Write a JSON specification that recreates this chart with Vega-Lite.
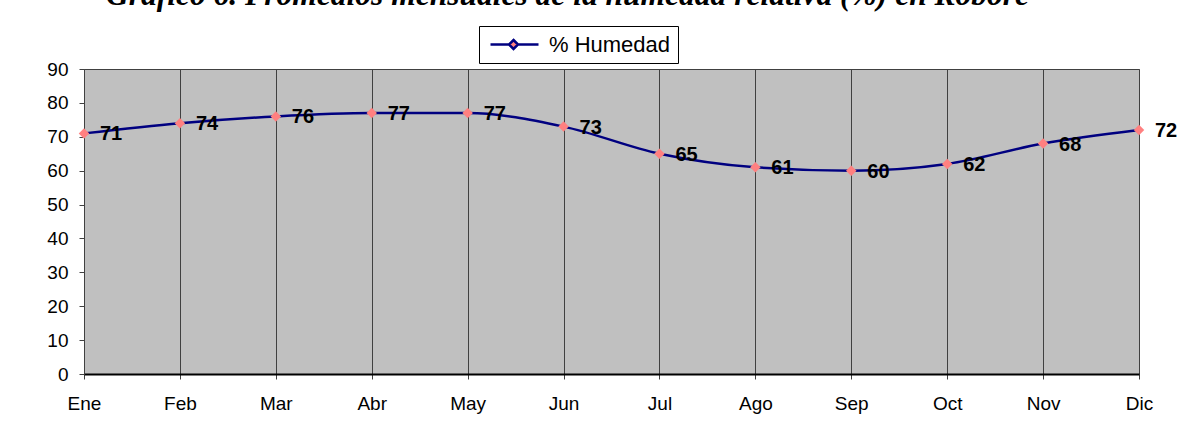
{
  "$schema": "https://vega.github.io/schema/vega-lite/v6.json",
  "width": 1055,
  "height": 305,
  "autosize": {"type": "none"},
  "padding": {"left": 84, "top": 69, "right": 64, "bottom": 56},
  "background": "white",
  "config": {
    "view": {"stroke": "#404040", "strokeWidth": 1, "fill": "#C0C0C0"},
    "axis": {"labelFont": "Liberation Sans", "labelColor": "black", "labelFontSize": 19}
  },
  "data": {
    "values": [
      {"mes": "Ene", "humedad": 71},
      {"mes": "Feb", "humedad": 74},
      {"mes": "Mar", "humedad": 76},
      {"mes": "Abr", "humedad": 77},
      {"mes": "May", "humedad": 77},
      {"mes": "Jun", "humedad": 73},
      {"mes": "Jul", "humedad": 65},
      {"mes": "Ago", "humedad": 61},
      {"mes": "Sep", "humedad": 60},
      {"mes": "Oct", "humedad": 62},
      {"mes": "Nov", "humedad": 68},
      {"mes": "Dic", "humedad": 72}
    ]
  },
  "encoding": {
    "x": {
      "field": "mes",
      "type": "ordinal",
      "sort": null,
      "scale": {"type": "point", "padding": 0},
      "axis": {
        "title": null,
        "labelAngle": 0,
        "grid": true,
        "gridColor": "#404040",
        "gridWidth": 1,
        "domainColor": "black",
        "domainWidth": 2,
        "tickColor": "#404040",
        "tickSize": 5,
        "labelPadding": 15
      }
    },
    "y": {
      "field": "humedad",
      "type": "quantitative",
      "scale": {"domain": [0, 90], "nice": false},
      "axis": {
        "title": "Gráfico 6. Promedios mensuales de la humedad relativa (%) en Roboré",
        "titleFont": "Liberation Serif",
        "titleFontSize": 31.5,
        "titleFontStyle": "italic",
        "titleFontWeight": "bold",
        "titleColor": "black",
        "titleAngle": 0,
        "titleAlign": "center",
        "titleBaseline": "alphabetic",
        "titleX": 483,
        "titleY": -65,
        "titleLimit": 2000,
        "grid": false,
        "values": [0, 10, 20, 30, 40, 50, 60, 70, 80, 90],
        "domainColor": "#404040",
        "tickColor": "#404040",
        "tickSize": 5,
        "labelPadding": 11
      }
    }
  },
  "layer": [
    {
      "mark": {"type": "line", "interpolate": "monotone", "strokeWidth": 2.5},
      "encoding": {
        "stroke": {
          "datum": "% Humedad",
          "type": "nominal",
          "scale": {"range": ["#000080"]},
          "legend": {
            "title": null,
            "orient": "none",
            "legendX": 395,
            "legendY": -43,
            "strokeColor": "black",
            "fillColor": "white",
            "padding": 7,
            "labelFont": "Liberation Sans",
            "labelFontSize": 22,
            "labelColor": "black",
            "labelOffset": 40,
            "symbolSize": 400,
            "symbolStrokeWidth": 2.5,
            "symbolFillColor": "#FF8080",
            "symbolType": "M-0.7,0L1.15,0M2.05,0L4.1,0M1.6,-0.45L2.05,0L1.6,0.45L1.15,0Z"
          }
        }
      }
    },
    {
      "mark": {"type": "point", "shape": "diamond", "filled": true, "size": 110, "color": "#FF8080", "opacity": 1}
    },
    {
      "mark": {"type": "text", "align": "left", "baseline": "middle", "dx": 16, "dy": 1, "font": "Liberation Sans", "fontSize": 20, "fontWeight": "bold", "color": "black"},
      "encoding": {"text": {"field": "humedad", "type": "quantitative"}}
    }
  ]
}
